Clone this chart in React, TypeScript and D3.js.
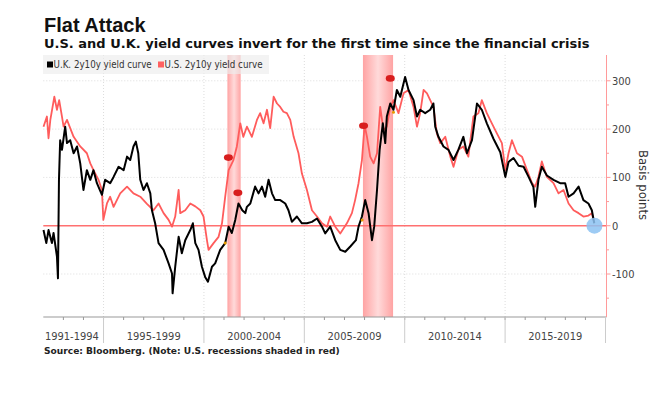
import * as React from "react";
import { scaleLinear, line as d3Line, range } from "d3";

// U.K. 2y10y curve (decimal year, basis points)
const ukDates = [
  1992.01, 1992.15, 1992.26, 1992.43, 1992.51, 1992.68, 1992.73, 1992.78, 1992.84, 1992.93,
  1993.09, 1993.18, 1993.34, 1993.51, 1993.68, 1993.84, 1994.0, 1994.17, 1994.34, 1994.5,
  1994.67, 1994.92, 1995.08, 1995.33, 1995.5, 1995.75, 1996.0, 1996.17, 1996.33, 1996.49,
  1996.61, 1996.73, 1996.83, 1996.99, 1997.16, 1997.33, 1997.41, 1997.57, 1997.74, 1997.99,
  1998.24, 1998.41, 1998.44, 1998.57, 1998.74, 1998.9, 1999.07, 1999.32, 1999.45, 1999.57,
  1999.73, 1999.9, 2000.06, 2000.2, 2000.4, 2000.56, 2000.81, 2001.06, 2001.23, 2001.39,
  2001.56, 2001.72, 2001.91, 2002.06, 2002.14, 2002.31, 2002.55, 2002.72, 2002.89, 2003.05,
  2003.22, 2003.39, 2003.55, 2003.8, 2004.05, 2004.21, 2004.38, 2004.63, 2004.88, 2005.13,
  2005.38, 2005.63, 2005.88, 2006.04, 2006.29, 2006.54, 2006.79, 2007.04, 2007.29, 2007.57,
  2007.7, 2007.87, 2008.03, 2008.2, 2008.37, 2008.48, 2008.62, 2008.75, 2008.91, 2009.03,
  2009.11, 2009.28, 2009.44, 2009.61, 2009.78, 2010.02, 2010.19, 2010.44, 2010.61, 2010.77,
  2011.02, 2011.27, 2011.43, 2011.52, 2011.68, 2011.93, 2012.18, 2012.43, 2012.67, 2012.92,
  2013.1, 2013.35, 2013.6, 2013.84, 2014.09, 2014.42, 2014.76, 2015.01, 2015.17, 2015.42,
  2015.67, 2015.92, 2016.17, 2016.41, 2016.5, 2016.66, 2016.83, 2017.08, 2017.41, 2017.74,
  2017.99, 2018.16, 2018.41, 2018.66, 2018.9, 2019.15, 2019.32, 2019.44,
];
const ukValues = [
  -9, -36, -9, -36, -15, -64, -109, 95, 177, 157,
  205, 171, 177, 150, 164, 129, 74, 115, 95, 115,
  88, 64, 95, 88, 101, 122, 115, 143, 136, 164,
  174, 150, 95, 74, 88, 67, 32, 5, -36, -50,
  -78, -99, -140, -85, -23, -57, -30, -9, 5, -36,
  -50, -85, -106, -116, -85, -78, -50, -36, -2, -15,
  12, 46, 32, 26, 39, 46, 81, 67, 81, 60,
  95, 67, 53, 53, 46, 32, 8, 19, 5, 5,
  8, 15, -2, -16, -2, -30, -50, -54, -43, -30,
  -2, 19, 53, 26, -30, -2, 74, 157, 212, 171,
  226, 253, 240, 281, 267, 308, 281, 260, 226, 240,
  233, 240, 253, 205, 184, 164, 157, 136, 157, 184,
  150, 177, 253, 240, 212, 180, 152, 101, 132, 140,
  124, 122, 101, 80, 39, 95, 122, 104, 95, 88,
  88, 60, 67, 81, 53, 46, 32, 5,
];

// U.S. 2y10y curve (decimal year, basis points)
const usDates = [
  1992.01, 1992.18, 1992.26, 1992.35, 1992.55, 1992.68, 1992.79, 1992.93, 1993.01, 1993.18,
  1993.34, 1993.51, 1993.84, 1994.17, 1994.34, 1994.5, 1994.75, 1994.92, 1994.99, 1995.17,
  1995.33, 1995.5, 1995.83, 1996.17, 1996.49, 1996.83, 1997.16, 1997.49, 1997.74, 1997.99,
  1998.24, 1998.41, 1998.57, 1998.74, 1998.82, 1999.07, 1999.32, 1999.57, 1999.82, 1999.98,
  2000.15, 2000.23, 2000.48, 2000.73, 2000.9, 2001.06, 2001.23, 2001.47, 2001.64, 2001.81,
  2001.96, 2002.14, 2002.39, 2002.64, 2002.8, 2002.97, 2003.14, 2003.3, 2003.47, 2003.64,
  2003.8, 2003.96, 2004.13, 2004.3, 2004.47, 2004.71, 2004.88, 2005.13, 2005.38, 2005.63,
  2005.88, 2006.13, 2006.29, 2006.54, 2006.79, 2007.12, 2007.37, 2007.53, 2007.7, 2007.87,
  2008.0, 2008.12, 2008.28, 2008.45, 2008.62, 2008.78, 2008.94, 2009.11, 2009.28, 2009.44,
  2009.69, 2009.94, 2010.19, 2010.44, 2010.61, 2010.77, 2010.94, 2011.11, 2011.27, 2011.43,
  2011.6, 2011.77, 2012.02, 2012.27, 2012.43, 2012.67, 2012.92, 2013.17, 2013.42, 2013.67,
  2013.84, 2014.09, 2014.34, 2014.59, 2014.84, 2015.01, 2015.17, 2015.34, 2015.59, 2015.84,
  2016.09, 2016.34, 2016.5, 2016.66, 2016.83, 2017.08, 2017.41, 2017.66, 2017.91, 2018.16,
  2018.41, 2018.66, 2018.9, 2019.15, 2019.32, 2019.44,
];
const usValues = [
  205, 226, 181, 219, 267, 240, 260, 226, 205, 219,
  202, 184, 164, 150, 129, 115, 95, 74, 12, 46,
  60, 39, 67, 81, 67, 60, 45, 32, 46, 26,
  12, -2, 19, 74, 26, 32, 46, 40, 32, 19,
  -30, -50, -36, -23, 5, 60, 115, 136, 164, 212,
  184, 205, 184, 219, 233, 212, 240, 202, 267, 253,
  246, 236, 233, 219, 184, 150, 108, 74, 32, 19,
  5, -2, 19, -2, -16, 5, 26, 53, 88, 136,
  208, 184, 143, 129, 150, 246, 198, 205, 246, 260,
  233, 274, 281, 246, 205, 233, 281, 274, 260, 246,
  191, 171, 184, 143, 122, 157, 164, 143, 226, 233,
  260, 233, 212, 191, 171, 115, 150, 177, 150, 143,
  115, 88, 81, 101, 133, 101, 88, 67, 74, 46,
  32, 26, 19, 21, 26, 5,
];

// U.S. recessions
const recessionStarts = [2001.17, 2007.92];
const recessionEnds = [2001.83, 2009.42];

// event markers and highlighted point
const flagDates = [2001.22, 2001.69, 2007.95, 2009.28];
const flagValues = [141, 68, 207, 305];
const dotDates = [2001.06, 2007.88, 2009.44];
const dotValues = [-36, 12, 235];
const highlightDate = 2019.45;

const periodStarts = [1991, 1995, 2000, 2005, 2010, 2015];
const periodLabels = ["1991-1994", "1995-1999", "2000-2004", "2005-2009", "2010-2014", "2015-2019"];
const yTicks = [-100, 0, 100, 200, 300];
const yMinorTicks = [-150, -50, 50, 150, 250];

const narrow = "'DejaVu Sans Condensed', 'Liberation Sans Narrow', sans-serif";
const arial = "'Liberation Sans', Arial, sans-serif";
const wide = "'DejaVu Sans', Verdana, sans-serif";

const App = () => {
  const left = 43.3;
  const right = 606.5;
  const top = 55;
  const bottom = 317;

  const x = scaleLinear().domain([1992, 2020]).range([left, 605.5]);
  const y = scaleLinear().domain([-189, 353.4]).range([bottom, top]);

  const line = d3Line<number[]>()
    .x(d => d[0])
    .y(d => d[1]);
  const uk = ukDates.map((d, i) => [x(d), y(ukValues[i])]);
  const us = usDates.map((d, i) => [x(d), y(usValues[i])]);

  const yearTicks = range(1993, 2020);
  const separators = range(1995, 2021, 5);

  return (
    <svg width={650} height={393} style={{ position: "absolute", left: 0, top: 0, background: "#fff" }}>
      <defs>
        <linearGradient id="rec" x1="0" x2="1" y1="0" y2="0">
          <stop offset="0" stopColor="#ffa3a3" />
          <stop offset="0.5" stopColor="#ffdada" />
          <stop offset="1" stopColor="#ffa3a3" />
        </linearGradient>
      </defs>

      <text x={44} y={32} fontFamily={arial} fontWeight="bold" fontSize={20} fill="#111">
        Flat Attack
      </text>
      <text x={44} y={47.5} fontFamily={wide} fontWeight="bold" fontSize={13} fill="#111">
        U.S. and U.K. yield curves invert for the first time since the financial crisis
      </text>

      {/* grid */}
      {[-100, 100, 200, 300].map(t => (
        <line key={t} x1={left} x2={right} y1={y(t)} y2={y(t)} stroke="#dcdcdc" strokeDasharray="1,2" />
      ))}
      {separators.slice(0, 5).map(t => (
        <line key={t} x1={x(t)} x2={x(t)} y1={top} y2={bottom} stroke="#dcdcdc" strokeDasharray="1,2" />
      ))}

      {/* recessions */}
      {recessionStarts.map((s, i) => (
        <rect key={s} x={x(s)} y={top} width={x(recessionEnds[i]) - x(s)} height={bottom - top} fill="url(#rec)" />
      ))}

      {/* legend */}
      <rect x={43} y={55} width={226} height={19} fill="#ececec" opacity={0.65} />
      <rect x={47} y={61.5} width={6} height={6} fill="#000" />
      <text x={53.5} y={68} fontFamily={narrow} fontSize={9.7} fill="#333">
        U.K. 2y10y yield curve
      </text>
      <rect x={158} y={61.5} width={6} height={6} fill="#ff6161" />
      <text x={164.5} y={68} fontFamily={narrow} fontSize={9.7} fill="#333">
        U.S. 2y10y yield curve
      </text>

      {/* zero line */}
      <line x1={left} x2={right} y1={y(0)} y2={y(0)} stroke="#ff7070" strokeWidth={1.5} />

      <path d={line(us) || ""} fill="none" stroke="#ff5c5c" strokeWidth={1.8} strokeLinejoin="round" />
      <path d={line(uk) || ""} fill="none" stroke="#000" strokeWidth={2} strokeLinejoin="round" />

      {flagDates.map((d, i) => (
        <ellipse key={d} cx={x(d)} cy={y(flagValues[i])} rx={4.5} ry={3.3} fill="#d81e1e" />
      ))}
      {dotDates.map((d, i) => (
        <circle key={d} cx={x(d)} cy={y(dotValues[i])} r={1.5} fill="#e59a00" />
      ))}
      <circle cx={x(highlightDate)} cy={y(0)} r={8} fill="#8cc2f2" opacity={0.85} />

      {/* bottom axis */}
      <line x1={left} x2={right} y1={bottom} y2={bottom} stroke="#999" strokeWidth={1.2} />
      {yearTicks.map(t => (
        <line key={t} x1={x(t)} x2={x(t)} y1={bottom} y2={bottom + 3} stroke="#999" />
      ))}
      {separators.map(t => (
        <line key={t} x1={x(t)} x2={x(t)} y1={bottom} y2={343} stroke="#ccc" />
      ))}
      {periodStarts.map((s, i) => {
        const a = x(Math.max(s, 1992));
        const b = x(Math.min(s + 5 - (s === 1991 ? 1 : 0), 2020));
        return (
          <text key={s} x={(a + b) / 2 - (i === 0 ? 1.5 : 0)} y={340} textAnchor="middle" fontFamily={narrow} fontSize={11} fill="#444">
            {periodLabels[i]}
          </text>
        );
      })}

      {/* right axis */}
      <line x1={right} x2={right} y1={top} y2={bottom} stroke="#ff9a9a" />
      {yTicks.map(t => (
        <g key={t}>
          <line x1={right} x2={right + 4} y1={y(t)} y2={y(t)} stroke="#ff9a9a" />
          <text x={612} y={y(t)} dy="0.35em" fontFamily={narrow} fontSize={11} fill="#444">
            {t < 0 ? `-${Math.abs(t)}` : t}
          </text>
        </g>
      ))}
      {yMinorTicks.map(t => (
        <line key={t} x1={right} x2={right + 2.5} y1={y(t)} y2={y(t)} stroke="#ff9a9a" />
      ))}
      <text
        transform={`translate(639,185) rotate(90)`}
        textAnchor="middle"
        fontFamily={narrow}
        fontSize={13}
        fill="#333"
      >
        Basis points
      </text>

      <text x={44} y={354} fontFamily={wide} fontWeight="bold" fontSize={9.1} fill="#222">
        Source: Bloomberg. (Note: U.S. recessions shaded in red)
      </text>
    </svg>
  );
};

export default App;
